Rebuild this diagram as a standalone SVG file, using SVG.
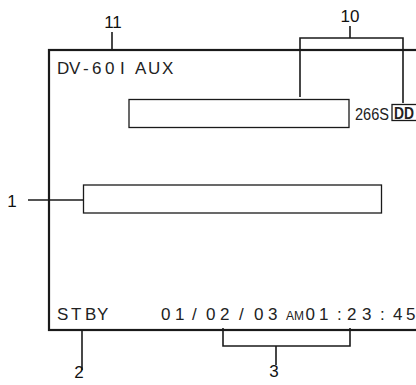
<svg xmlns="http://www.w3.org/2000/svg" width="416" height="385" viewBox="0 0 416 385">
<style>
.frame{fill:none;stroke:#1a1a1a;stroke-width:2.2}
.box{fill:#fff;stroke:#1a1a1a;stroke-width:1.3}
.ln{fill:none;stroke:#1a1a1a;stroke-width:1.6}
.lbl{font-family:"Liberation Sans",Arial,sans-serif;font-size:17px;fill:#111;text-anchor:middle}
.scr{font-family:"Liberation Sans",Arial,sans-serif;font-size:17px;fill:#222}
.nar{font-family:"Liberation Sans",Arial,sans-serif;fill:#222}
</style>
<rect width="416" height="385" fill="#fff"/>
<g id="screen">
<rect class="frame" x="49" y="50" width="400" height="280"/>
</g>
<g id="model"><text class="scr" x="57 69 83 92 105 120 135 148 162" y="74">DV-60IAUX</text></g>
<g id="box-top"><rect class="box" x="129" y="99.5" width="220" height="28"/></g>
<g id="box-mid"><rect class="box" x="83.5" y="185" width="298" height="28"/></g>
<g id="rate"><text class="nar" x="355" y="120" font-size="16" textLength="34" lengthAdjust="spacingAndGlyphs">266S</text></g>
<g id="dd">
<rect x="392" y="104.5" width="30" height="16" fill="#fff" stroke="#1a1a1a" stroke-width="1.3"/>
<text class="nar" x="394" y="119" font-size="16" font-weight="bold" textLength="20" lengthAdjust="spacingAndGlyphs">DD</text>
</g>
<g id="status"><text class="scr" x="57 71 85 97" y="320">STBY</text></g>
<g id="datetime">
<text class="scr" x="161 175 192 206 220 239 254 268" y="320">01/02/03</text>
<text class="scr" y="320"><tspan font-size="12" x="286 294">AM</tspan><tspan x="305.5 319 337 347 362 380 393 406">01:23:45</tspan></text>
</g>
<g id="connectors">
<path class="ln" d="M112 32V50"/>
<path class="ln" d="M350 26V38M300 97V38H403V103"/>
<path class="ln" d="M28 200H83.5"/>
<path class="ln" d="M82 330V370"/>
<path class="ln" d="M223 328V346H350V328M276 346V365"/>
</g>
<g id="callouts">
<text class="lbl" x="113" y="28">11</text>
<text class="lbl" x="350" y="22">10</text>
<text class="lbl" x="12" y="207">1</text>
<text class="lbl" x="79" y="378">2</text>
<text class="lbl" x="274" y="377">3</text>
</g>
</svg>
